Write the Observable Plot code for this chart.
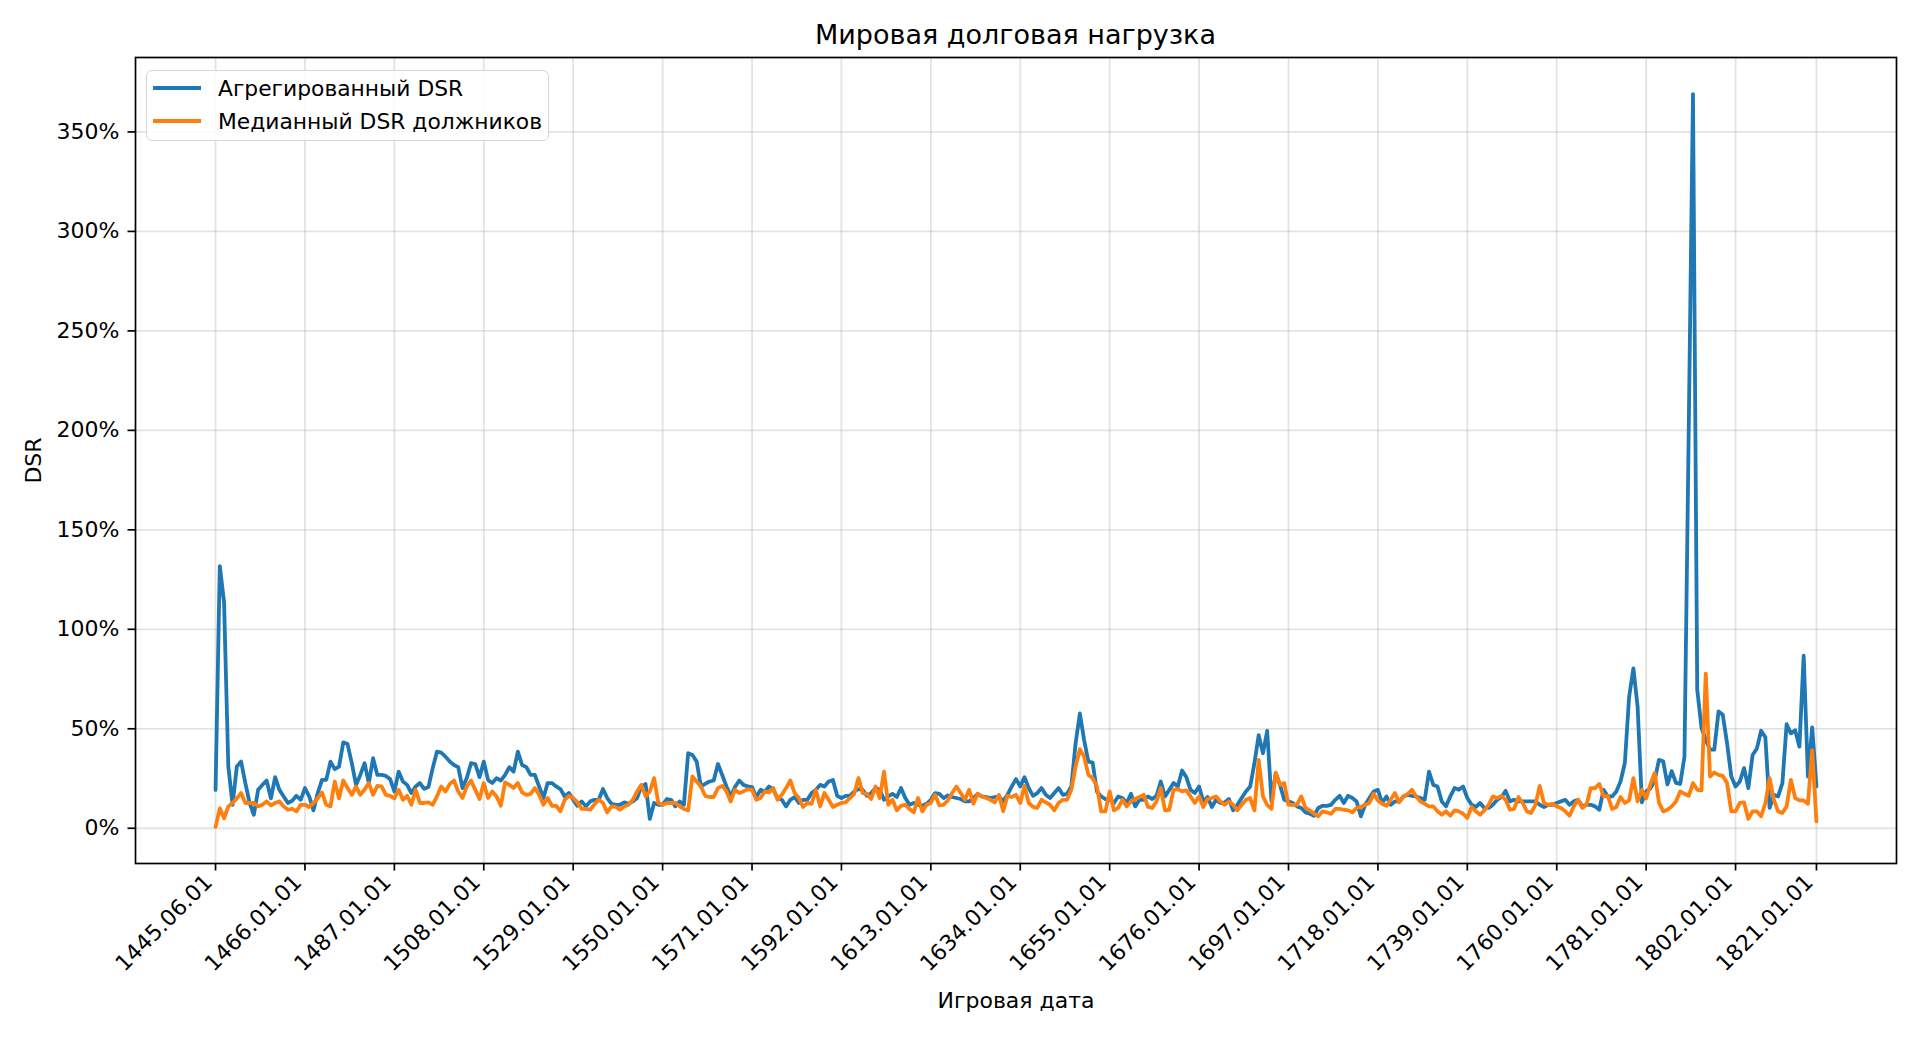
<!DOCTYPE html>
<html><head><meta charset="utf-8">
<script src="https://cdn.jsdelivr.net/npm/d3@7"></script>
<script src="https://cdn.jsdelivr.net/npm/@observablehq/plot@0.6"></script>
<style>
body{margin:0;background:#fff;font-family:"DejaVu Sans",sans-serif;}
#wrap{position:relative;width:1920px;height:1040px;}
#title{position:absolute;left:135px;width:1761px;top:19px;text-align:center;font-size:27px;color:#000;}
#legend{position:absolute;left:146px;top:70px;width:401px;height:69px;border:1.6px solid #d6d6d6;border-radius:6px;background:rgba(255,255,255,0.85);}
.row{position:absolute;left:0;height:30px;display:flex;align-items:center;font-size:21.8px;color:#000;white-space:nowrap;}
.row svg{margin-left:6px;margin-right:17px;}
</style>
</head><body>
<div id="wrap"><div id="chart"></div><div id="title"></div><div id="legend"></div></div>
<script>
const chartTitle = "Мировая долговая нагрузка";
const xLabel = "Игровая дата";
const yLabel = "DSR";
const seriesNames = ["Агрегированный DSR", "Медианный DSR должников"];
const seriesColors = ["#1f77b4", "#ff7f0e"];

// date categories: first sample 1445.06.01, then every January 1st up to 1821
const firstDate = "1445.06.01";
const dates = [firstDate, ...d3.range(1446, 1822).map(y => `${y}.01.01`)];

const tickLabels = ["1445.06.01","1466.01.01","1487.01.01","1508.01.01","1529.01.01","1550.01.01","1571.01.01","1592.01.01","1613.01.01","1634.01.01","1655.01.01","1676.01.01","1697.01.01","1718.01.01","1739.01.01","1760.01.01","1781.01.01","1802.01.01","1821.01.01"];
const yTicks = [0, 50, 100, 150, 200, 250, 300, 350];

// Aggregated DSR, %
const aggDSR = [
19.3,131.8,113.5,31,11.8,31,33.5,22.7,12.7,6.8,
19.3,21.8,24,15,25.7,19.3,16,12.7,13.8,16.3,
14.3,20.2,16,9,17.7,24.3,24.3,33.5,29.7,31,
43.2,42.3,32.7,21.8,26.8,32.7,22.7,35.2,26.8,26.8,
26.3,24.7,18.5,28.5,23.5,21.8,17.7,21,22.7,19.8,
20.7,30.2,38.5,38,36,33.5,31.8,30.7,20.2,25.2,
32.7,32.3,25.7,33.5,24.3,22.7,25.2,24,26.8,30.7,
28.5,38.5,31.8,30.7,26.8,26.8,21,15.2,22.7,22.7,
21,19.7,16,17.7,14.3,11.3,13.5,11,13.5,14.3,
14.3,19.7,15.2,12.3,11.8,11.8,13,12.3,13.5,15.2,
21,22.2,4.7,12.7,11.8,11.8,14.7,14.3,11,13.5,
11.8,37.7,36.8,33.5,21,22.3,23.5,24,32.3,26.8,
21,16,20.7,24,21.8,21,20.7,15.7,19.3,18.5,
21,19.3,15.2,14.3,11,14.3,15.7,12.7,14.3,14.3,
17.7,19.3,21.8,21,23.5,24.3,16.3,15.2,16.3,16.3,
18.5,19.7,19.3,16.3,17.7,20.2,19.3,14.3,16,17.3,
15.7,20.2,15.2,11.8,12.7,11.8,11.3,12.3,14.3,17.7,
17.3,15.2,16.5,15.7,15.2,14.7,13.5,13.5,15.2,17.3,
16,15.7,15.2,15.7,16,13.5,16.8,21,24.7,21,
25.7,20.2,16.3,17.7,20.2,16.8,15.2,17.7,20.2,16.8,
17.3,21,42.7,57.7,44.3,33.5,33,18.5,16,14.7,
14.3,12.7,16,15.2,12.7,17.3,11,14.3,14.3,16,
14.7,16.3,23.5,16,19.3,22.7,21,29,25.7,19.3,
17.7,21,13.5,15.7,10.7,14.3,12.7,13,14.7,9,
11.8,15.2,18.5,21,32.7,46.8,37.7,49,13.5,27.7,
21.8,14.3,13.5,12.7,11,10.2,8,7.3,6.3,10.2,
11.3,11.3,11.8,14.3,16.3,12.7,16.3,15.2,13.5,6,
11.8,15.2,18.5,19.3,12.7,16,11.8,13.5,13.5,16,
16.8,16.3,16,15.2,14.3,28.5,21.8,21,13.5,11,
16,20.2,19.3,21,15.2,11.8,10.7,12.7,10.2,10.2,
11.8,14.3,15.7,18.8,13.5,14.3,13.5,13.5,13.5,13.5,
13.5,11.8,10.7,11.8,11.8,12.7,13.5,14.3,11.8,13.5,
14.3,11,11.8,11.8,11,9.3,19.3,16,16,18.5,
23.6,32.8,66,80.4,61,13,18.6,20,24,34.4,
33.7,22,28.7,22.8,22.3,36,200,369,69.6,50.5,
44.5,39.5,39.5,58.7,57,42.8,26,21,23.5,30.2,
20.2,36.8,40,49,45.7,10.2,16.8,16,22.7,52.3,
47.7,49.3,41,86.8,26,50.7,21
];

// Median DSR of debtors, %
const medianDSR = [
0.7,10,5,11,12.7,15,17.7,12.7,12.7,12.7,
11,11.8,13.5,11.5,12.7,13.5,11,9.3,9.7,8.5,
11.8,11.8,10.7,12.7,15,18,11.8,11,23.5,15,
24,20.2,16.8,21,16.8,19.3,22.7,16.8,21.3,21,
16.8,16.3,15,19.3,14.3,16.3,11.8,19.3,12.7,12.7,
13,11.8,16,21,18.5,22.2,24,18.5,15.2,21,
24,19.3,14.7,22.7,15.2,18.5,16,11.3,23,21.8,
20.2,22.7,18,16.8,17.3,20.2,16.8,11.8,15.2,11.3,
11.3,8.5,14.3,16.3,15.2,13,9.7,9.7,9.3,12,
14.3,12.7,8,11,10.7,9.3,11,11.8,14.3,18.5,
21.8,16,18.5,25.2,12.7,11.8,12.7,12.7,12.7,11,
9.7,9,26,23.5,21,16.3,15.7,15.7,20.2,21.3,
18.5,13.5,19.3,17.7,18.5,19.7,19.3,14.3,15.2,18.5,
18,20.2,14.3,16.8,20.2,24,17.7,15.2,10.7,12.7,
12.3,19.3,11,17.7,14.3,10.7,11.8,12.7,13,15.2,
17.3,25.2,17.7,17.3,14.7,21,15.2,28.5,11.8,14.3,
9,11.3,11.8,9.7,8,15.2,8.5,11.8,12.7,16.8,
11.5,11.8,14,17.7,21,17.7,14.3,19.3,12.3,17.3,
16,15.2,14.3,13,16.8,8.5,16.3,15.7,16.8,12.7,
21.3,12.7,10.7,10.2,14.3,13,11.8,9,12.7,14.3,
14.3,19.3,31,39.7,36,26.8,25.2,21,8.5,8.5,
18.5,9,10.2,14.3,11,13.5,14.7,15.7,16.8,10.7,
10.2,13.5,20.2,9,9.3,19.3,19.7,18.5,19,16,
12.7,16,10.7,14.7,15.2,16,13.5,11.8,13.5,11.8,
9,11.8,14.3,15.2,9,34.3,16,11.8,9.7,28,
21.8,22.7,11.8,11.8,11.8,16,10.2,9,7.3,6,
8.5,8,7.3,9.7,9.7,9.3,9,8,10.2,10.7,
11.8,12.7,17.3,14,12.3,11.3,14.3,17.7,13,16,
17.3,19.3,16,13.5,12.3,11,11,8.5,6.8,8.5,
6.3,9,8.5,7.3,5.2,10.7,8.5,6.8,9,11.8,
16,15.2,16.3,14.3,9.3,9.7,15.7,12.7,8.5,7.7,
11.8,21.3,12.7,11.8,12.3,11,10.2,8.5,6.3,11,
14.3,10.2,11.8,20.2,20.2,22.3,16,16.3,9.7,10.7,
15.7,12.7,14,25.2,13.5,19.3,15,22,27.7,13,
8.5,9.3,11,13.5,18.5,17.3,16.3,22.7,19.3,19,
77.7,26,28,26.8,26.3,22.7,8.5,8.5,12.7,13,
4.7,8.5,8.5,6,12.7,25.2,14.3,8.5,7.7,11,
24.3,15.2,14,14,12.3,39.3,3.5
];

const n = dates.length;
const rows = dates.map((d, i) => ({i, date: d, agg: aggDSR[i], med: medianDSR[i]}));
const tickIdx = tickLabels.map(l => dates.indexOf(l));
const allVals = aggDSR.concat(medianDSR);
const [vmin, vmax] = d3.extent(allVals);
const ypad = (vmax - vmin) * 0.05;
const xpad = (n - 1) * 0.05;

const grid = {stroke: "#b0b0b0", strokeOpacity: 0.35, strokeWidth: 1.8};

const chart = Plot.plot({
  width: 1920, height: 1040,
  marginLeft: 135, marginRight: 24, marginTop: 57, marginBottom: 177,
  style: {fontFamily: "DejaVu Sans", fontSize: "22px", color: "#000", background: "#fff", overflow: "visible"},
  x: {type: "linear", domain: [-xpad, (n - 1) + xpad]},
  y: {domain: [vmin - ypad, vmax + ypad]},
  marks: [
    Plot.gridX(tickIdx, grid),
    Plot.gridY(yTicks, grid),
    Plot.line(rows, {x: "i", y: "agg", stroke: seriesColors[0], strokeWidth: 3.8}),
    Plot.line(rows, {x: "i", y: "med", stroke: seriesColors[1], strokeWidth: 3.8}),
    // tick marks + axis title
    Plot.axisX(tickIdx, {tickFormat: () => "", tickSize: 7.5, strokeWidth: 1.7,
      label: xLabel, labelAnchor: "center", labelArrow: "none", labelOffset: 144, fontSize: 22}),
    // rotated tick labels
    Plot.axisX(tickIdx, {tickFormat: i => dates[i], tickRotate: -45, tickSize: 0, tickPadding: 14, dx: -7, dy: 1,
      label: null, fontSize: 22}),
    Plot.axisY(yTicks, {tickFormat: d => d + "%", tickSize: 7.5, tickPadding: 8.5, strokeWidth: 1.7,
      label: yLabel, labelAnchor: "center", labelArrow: "none", labelOffset: 110, fontSize: 22}),
    Plot.frame({stroke: "#000", strokeWidth: 1.7})
  ]
});
document.getElementById("chart").appendChild(chart);
document.getElementById("title").textContent = chartTitle;

const legend = document.getElementById("legend");
seriesNames.forEach((name, k) => {
  const row = document.createElement("div");
  row.className = "row";
  row.style.top = (2 + k * 33) + "px";
  row.innerHTML = `<svg width="48" height="10"><line x1="0" y1="5" x2="48" y2="5" stroke="${seriesColors[k]}" stroke-width="4.2"/></svg><span></span>`;
  row.querySelector("span").textContent = name;
  legend.appendChild(row);
});
</script>
</body></html>
